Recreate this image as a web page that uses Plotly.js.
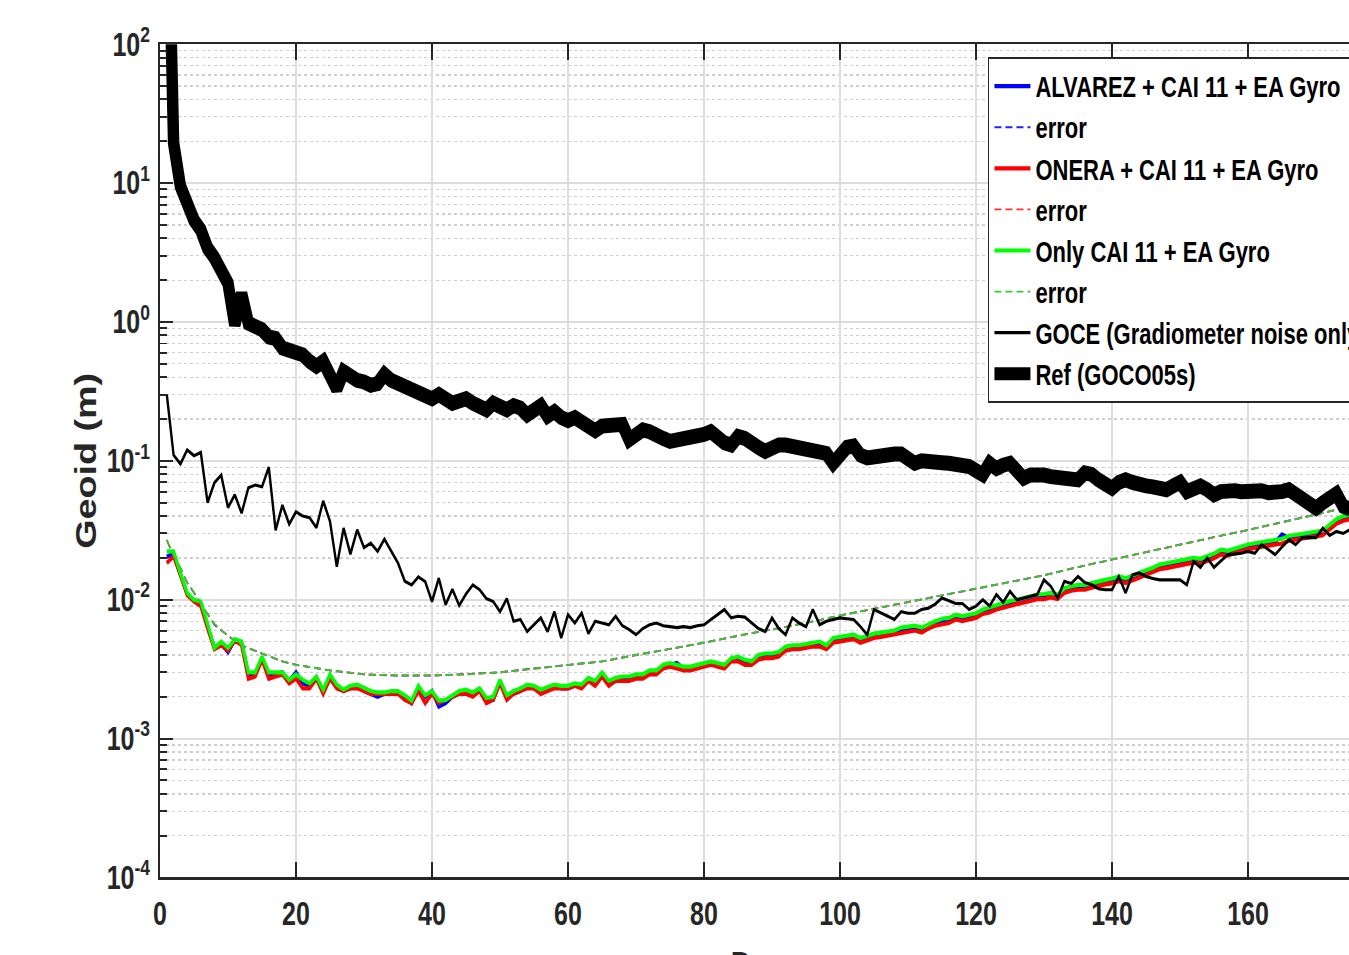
<!DOCTYPE html>
<html><head><meta charset="utf-8">
<script src="https://cdn.plot.ly/plotly-3.0.1.min.js"></script>
<style>
html{margin:0;padding:0;overflow:hidden;background:#fff}
body{margin:0;padding:0;width:1440px;height:955px;background:#fff}
#chart{width:1440px;height:765px;transform:scaleY(1.3);transform-origin:0 0}
</style>
</head><body><div id="chart"></div><script>
// ---- data ----
const degree = [1,2,3,4,5,6,7,8,9,10,11,12,13,14,15,16,17,18,19,20,21,22,23,24,25,26,27,28,29,30,31,32,33,34,35,36,37,38,39,40,41,42,43,44,45,46,47,48,49,50,51,52,53,54,55,56,57,58,59,60,61,62,63,64,65,66,67,68,69,70,71,72,73,74,75,76,77,78,79,80,81,82,83,84,85,86,87,88,89,90,91,92,93,94,95,96,97,98,99,100,101,102,103,104,105,106,107,108,109,110,111,112,113,114,115,116,117,118,119,120,121,122,123,124,125,126,127,128,129,130,131,132,133,134,135,136,137,138,139,140,141,142,143,144,145,146,147,148,149,150,151,152,153,154,155,156,157,158,159,160,161,162,163,164,165,166,167,168,169,170,171,172,173,174,175];

const alvarez = [0.0204,0.0215,0.0152,0.0110,0.0099,0.0094,0.0065,0.0045,0.0048,0.0042,
 0.0051,0.0049,0.0029,0.0029,0.0038,0.0029,0.0029,0.0030,0.0026,0.0030,
 0.0025,0.0024,0.0027,0.0022,0.0028,0.0024,0.0022,0.0023,0.0024,0.0022,
 0.0021,0.0020,0.0021,0.0021,0.0021,0.0020,0.0018,0.0023,0.0020,0.0022,
 0.0017,0.0018,0.0020,0.0021,0.0022,0.0021,0.0022,0.0019,0.0019,0.0026,
 0.0020,0.0021,0.0022,0.0024,0.0023,0.0022,0.0023,0.0024,0.0023,0.0023,
 0.0024,0.0024,0.0027,0.0025,0.0029,0.0025,0.0027,0.0027,0.0027,0.0028,
 0.0028,0.0030,0.0030,0.0033,0.0034,0.0035,0.0032,0.0032,0.0033,0.0034,
 0.0035,0.0034,0.0033,0.0037,0.0038,0.0036,0.0035,0.0039,0.0040,0.0040,
 0.0041,0.0045,0.0046,0.0046,0.0047,0.0048,0.0049,0.0046,0.0052,0.0053,
 0.0053,0.0054,0.0051,0.0054,0.0055,0.0056,0.0057,0.0058,0.0061,0.0062,
 0.0063,0.0061,0.0065,0.0068,0.0071,0.0072,0.0076,0.0074,0.0076,0.0078,
 0.0082,0.0085,0.0089,0.0091,0.0095,0.0097,0.0100,0.0103,0.0106,0.0107,
 0.0109,0.0106,0.0117,0.0121,0.0124,0.0124,0.0128,0.0132,0.0135,0.0138,
 0.0143,0.0139,0.0146,0.0151,0.0158,0.0165,0.0174,0.0178,0.0181,0.0185,
 0.0190,0.0194,0.0191,0.0199,0.0209,0.0222,0.0218,0.0226,0.0236,0.0243,
 0.0247,0.0252,0.0257,0.0260,0.0295,0.0279,0.0284,0.0289,0.0295,0.0299,
 0.0306,0.0337,0.0369,0.0388,0.0398];

const onera = [0.0184,0.0205,0.0150,0.0108,0.0097,0.0090,0.0062,0.0044,0.0047,0.0043,
 0.0051,0.0047,0.0027,0.0028,0.0037,0.0027,0.0028,0.0029,0.0025,0.0027,
 0.0023,0.0023,0.0027,0.0021,0.0027,0.0023,0.0022,0.0023,0.0023,0.0022,
 0.0021,0.0021,0.0021,0.0021,0.0021,0.0019,0.0018,0.0022,0.0018,0.0021,
 0.0018,0.0019,0.0020,0.0021,0.0021,0.0020,0.0022,0.0018,0.0019,0.0025,
 0.0019,0.0021,0.0022,0.0023,0.0023,0.0021,0.0022,0.0023,0.0023,0.0023,
 0.0024,0.0023,0.0026,0.0024,0.0028,0.0024,0.0026,0.0026,0.0026,0.0027,
 0.0027,0.0029,0.0029,0.0032,0.0033,0.0032,0.0031,0.0031,0.0032,0.0033,
 0.0034,0.0033,0.0032,0.0036,0.0036,0.0034,0.0034,0.0037,0.0038,0.0038,
 0.0039,0.0043,0.0044,0.0044,0.0045,0.0046,0.0046,0.0044,0.0049,0.0050,
 0.0051,0.0052,0.0049,0.0051,0.0053,0.0054,0.0055,0.0056,0.0058,0.0059,
 0.0060,0.0058,0.0062,0.0065,0.0067,0.0068,0.0072,0.0070,0.0072,0.0074,
 0.0079,0.0081,0.0085,0.0087,0.0090,0.0093,0.0095,0.0098,0.0101,0.0101,
 0.0104,0.0101,0.0112,0.0116,0.0118,0.0118,0.0122,0.0126,0.0129,0.0131,
 0.0136,0.0132,0.0139,0.0144,0.0151,0.0157,0.0166,0.0169,0.0173,0.0177,
 0.0181,0.0185,0.0182,0.0190,0.0199,0.0212,0.0208,0.0216,0.0225,0.0231,
 0.0236,0.0241,0.0245,0.0248,0.0254,0.0266,0.0271,0.0276,0.0281,0.0285,
 0.0291,0.0321,0.0352,0.0370,0.0380];

const onlyCai = [0.0223,0.0223,0.0155,0.0112,0.0100,0.0097,0.0067,0.0045,0.0050,0.0045,
 0.0052,0.0050,0.0030,0.0030,0.0039,0.0030,0.0030,0.0030,0.00265,0.0029,
 0.00265,0.0025,0.0028,0.00225,0.0029,0.00245,0.00225,0.0024,0.00245,0.0023,
 0.0022,0.00215,0.00215,0.0022,0.0022,0.00205,0.00188,0.0024,0.00205,0.0022,
 0.00188,0.0019,0.00205,0.0022,0.00225,0.00215,0.0023,0.00196,0.0020,0.00265,
 0.00205,0.0022,0.0023,0.00245,0.0024,0.00225,0.00235,0.00245,0.0024,0.0024,
 0.0025,0.00245,0.00274,0.0026,0.0030,0.0026,0.00274,0.0028,0.0028,0.0029,
 0.0029,0.0031,0.0031,0.0034,0.0035,0.0034,0.0033,0.0033,0.0034,0.0035,
 0.0036,0.0035,0.0034,0.0038,0.0039,0.0037,0.0036,0.0040,0.0041,0.0041,
 0.0042,0.0046,0.0047,0.0047,0.0048,0.0049,0.0050,0.0047,0.0053,0.0054,
 0.0055,0.0056,0.0053,0.0055,0.0057,0.0058,0.0059,0.0060,0.0063,0.0064,
 0.0065,0.0063,0.0067,0.0070,0.0073,0.0074,0.0078,0.0076,0.0078,0.0080,
 0.0085,0.0088,0.0092,0.0094,0.0098,0.0100,0.0103,0.0106,0.0109,0.0110,
 0.0112,0.0109,0.0121,0.0125,0.0128,0.0128,0.0132,0.0136,0.0139,0.0142,
 0.0147,0.0143,0.0150,0.0156,0.0163,0.0170,0.0179,0.0183,0.0187,0.0191,
 0.0196,0.0200,0.0197,0.0205,0.0215,0.0229,0.0225,0.0233,0.0243,0.0250,
 0.0255,0.0260,0.0265,0.0268,0.0275,0.0288,0.0293,0.0298,0.0304,0.0308,
 0.0315,0.0347,0.0380,0.0400,0.0410];

const goce = [0.30,0.110,0.095,0.12,0.109,0.115,0.050,0.0695,0.079,0.046,
 0.057,0.042,0.064,0.067,0.065,0.090,0.0316,0.048,0.035,0.043,
 0.040,0.039,0.033,0.0515,0.0366,0.0173,0.0328,0.0213,0.0319,0.0237,
 0.0256,0.0223,0.0273,0.0225,0.0184,0.0136,0.0128,0.0146,0.0135,0.0097,
 0.0143,0.0092,0.0119,0.0091,0.0110,0.0128,0.0118,0.0102,0.0097,0.0082,
 0.0102,0.0070,0.0072,0.0059,0.0066,0.0074,0.0059,0.0082,0.0053,0.0078,
 0.0068,0.0080,0.0057,0.0070,0.0068,0.0066,0.0076,0.0065,0.0061,0.0056,
 0.0062,0.0066,0.0068,0.0065,0.0064,0.0063,0.0064,0.0063,0.0065,0.0066,
 0.0072,0.0078,0.0085,0.0074,0.0076,0.0075,0.0068,0.0062,0.0059,0.0074,
 0.0062,0.0056,0.0074,0.0068,0.0064,0.0085,0.0066,0.0070,0.0072,0.0074,
 0.0073,0.0072,0.0064,0.0056,0.0085,0.0080,0.0076,0.0072,0.0082,0.0080,
 0.0080,0.0085,0.0087,0.0093,0.0103,0.0098,0.0094,0.0094,0.0085,0.0090,
 0.0100,0.0090,0.0109,0.0096,0.0115,0.0100,0.0103,0.0106,0.0109,0.0139,
 0.0125,0.0103,0.0136,0.0131,0.0147,0.0133,0.0128,0.0120,0.0118,0.0118,
 0.0147,0.0112,0.0151,0.0156,0.0147,0.0142,0.0139,0.0139,0.0139,0.0139,
 0.0128,0.0189,0.0171,0.0200,0.0171,0.0189,0.0211,0.0213,0.0216,0.0223,
 0.0216,0.0249,0.0230,0.0211,0.0240,0.0270,0.0249,0.0280,0.0280,0.0280,
 0.0328,0.0290,0.0310,0.0300,0.0320];

const refGoco = [3000,19.4,9.5,6.8,5.4,4.6,3.4,2.9,2.4,1.9,
 0.95,1.6,0.98,0.93,0.88,0.78,0.76,0.65,0.63,0.62,
 0.58,0.52,0.48,0.52,0.42,0.33,0.44,0.40,0.38,0.37,
 0.35,0.36,0.42,0.38,0.36,0.33,0.32,0.30,0.28,0.28,
 0.30,0.27,0.26,0.27,0.28,0.26,0.24,0.233,0.26,0.24,
 0.233,0.25,0.24,0.214,0.23,0.25,0.21,0.226,0.205,0.195,
 0.205,0.19,0.175,0.165,0.178,0.18,0.182,0.183,0.142,0.152,
 0.167,0.162,0.158,0.145,0.138,0.14,0.141,0.145,0.15,0.155,
 0.162,0.145,0.135,0.13,0.15,0.145,0.138,0.125,0.117,0.125,
 0.13,0.13,0.128,0.122,0.117,0.118,0.12,0.113,0.096,0.115,
 0.125,0.128,0.11,0.105,0.108,0.11,0.11,0.112,0.112,0.10,
 0.096,0.10,0.097,0.098,0.097,0.096,0.096,0.093,0.091,0.085,
 0.0795,0.096,0.088,0.093,0.096,0.085,0.075,0.079,0.081,0.079,
 0.077,0.077,0.075,0.074,0.073,0.082,0.08,0.073,0.068,0.0636,
 0.07,0.073,0.07,0.066,0.066,0.065,0.064,0.062,0.066,0.07,
 0.06,0.063,0.066,0.062,0.057,0.06,0.062,0.061,0.06,0.061,
 0.062,0.061,0.059,0.058,0.06,0.062,0.057,0.0525,0.049,0.0457,
 0.05,0.056,0.058,0.047,0.045];

const errDegree = [1,2,3,4,5,6,7,8,10,12,15,18,20,25,30,35,40,45,50,55,60,65,70,75,80,85,90,95,100,105,110,115,120,125,130,135,140,145,150,155,160,165,170,175];
const alvarezErr = [0.0268,0.0207,0.0169,0.0132,0.0112,0.0092,0.0079,0.0066,0.0055,0.0047,0.0041,0.0036,0.0034,0.0031,0.0029,0.00284,0.00284,0.0029,0.0030,0.0032,0.0034,0.0036,0.0040,0.0044,0.0049,0.0055,0.0061,0.0068,0.0077,0.0086,0.0096,0.0107,0.0120,0.0134,0.0150,0.0172,0.0195,0.0222,0.0250,0.0282,0.0318,0.0360,0.0410,0.0468];
const oneraErr = [0.0269,0.0208,0.0170,0.0133,0.0113,0.0093,0.0079,0.0067,0.0055,0.0047,0.0041,0.0036,0.0034,0.0031,0.0029,0.00285,0.00285,0.0029,0.0030,0.0032,0.0034,0.0036,0.0040,0.0044,0.0049,0.0055,0.0061,0.0068,0.0077,0.0086,0.0096,0.0107,0.0120,0.0134,0.0150,0.0172,0.0195,0.0222,0.0250,0.0282,0.0318,0.0360,0.0410,0.0470];
const onlyCaiErr = [0.0270,0.0208,0.0170,0.0133,0.0113,0.0093,0.0079,0.0067,0.0055,0.0047,0.0041,0.0036,0.0034,0.0031,0.0029,0.00285,0.00285,0.0029,0.0030,0.0032,0.0034,0.0036,0.0040,0.0044,0.0049,0.0055,0.0061,0.0068,0.0077,0.0086,0.0096,0.0107,0.0120,0.0134,0.0150,0.0172,0.0195,0.0222,0.0250,0.0282,0.0318,0.0360,0.0410,0.0470];

const seriesNames = ['ALVAREZ + CAI 11 + EA Gyro','error','ONERA + CAI 11 + EA Gyro','error','Only CAI 11 + EA Gyro','error','GOCE (Gradiometer noise only)','Ref (GOCO05s)'];
const xTickVals = [0,20,40,60,80,100,120,140,160];
const yTickVals = [1e-4,1e-3,1e-2,1e-1,1e0,1e1,1e2];
const yTickText = ['10<sup>-4</sup>','10<sup>-3</sup>','10<sup>-2</sup>','10<sup>-1</sup>','10<sup>0</sup>','10<sup>1</sup>','10<sup>2</sup>'];

// ---- styling ----
const FONT = '"Liberation Sans", Arial, Helvetica, sans-serif';
const INK = '#262626';
const minorVals = [];
for (let e = -4; e < 2; e++) for (let m = 2; m <= 9; m++) minorVals.push(m * Math.pow(10, e));

function solid(y, name, color, w){ return {x: degree, y: y, name: name, mode: 'lines', line: {color: color, width: w}}; }
function dashed(y, name, color){ return {x: errDegree, y: y, name: name, mode: 'lines', line: {color: color, width: 1.4, dash: '7px,4px'}}; }

const traces = [
  solid(alvarez, seriesNames[0], '#0000ff', 3.2),
  dashed(alvarezErr, seriesNames[1], '#2020ff'),
  solid(onera, seriesNames[2], '#ff0000', 3.2),
  dashed(oneraErr, seriesNames[3], '#ff3030'),
  solid(onlyCai, seriesNames[4], '#00ff00', 3.2),
  dashed(onlyCaiErr, seriesNames[5], '#33cc33'),
  solid(goce, seriesNames[6], '#000000', 2.4),
  solid(refGoco, seriesNames[7], '#000000', 11.5)
];

const layout = {
  width: 1440, height: 765,
  margin: {l: 160, r: 40, t: 33.85, b: 89.6, autoexpand: false},
  paper_bgcolor: '#ffffff', plot_bgcolor: '#ffffff',
  showlegend: true,
  font: {family: FONT, color: INK},
  xaxis: {
    range: [0, 182.35], tickmode: 'array', tickvals: xTickVals,
    ticks: 'inside', ticklen: 12, tickwidth: 1.5, tickcolor: INK,
    showline: true, linecolor: INK, linewidth: 1.6, mirror: 'ticks',
    showgrid: true, gridcolor: '#dedede', gridwidth: 1.5, zeroline: false,
    tickfont: {family: FONT, size: 25, color: INK, weight: 'bold'},
    ticklabelstandoff: 5,
    title: {text: 'Degree', font: {family: FONT, size: 29, color: INK, weight: 'bold'}, standoff: 16}
  },
  yaxis: {
    type: 'log', range: [-4, 2], tickmode: 'array', tickvals: yTickVals, ticktext: yTickText,
    ticks: 'inside', ticklen: 13, tickwidth: 1.5, tickcolor: INK,
    showline: true, linecolor: INK, linewidth: 2, mirror: 'ticks',
    showgrid: true, gridcolor: '#dcdcdc', gridwidth: 1.6, zeroline: false,
    tickfont: {family: FONT, size: 25, color: INK, weight: 'bold'},
    ticklabelstandoff: 3,
    minor: {tickmode: 'array', tickvals: minorVals, ticks: 'inside', ticklen: 7, tickwidth: 1.5, tickcolor: INK,
            showgrid: true, gridcolor: '#cfcfcf', gridwidth: 1, griddash: 'dot'},
    title: {text: 'Geoid (m)', font: {family: FONT, size: 29, color: INK, weight: 'bold'}, standoff: 1}
  },
  legend: {
    x: 0.6677, y: 0.9844, xanchor: 'left', yanchor: 'top',
    bgcolor: '#ffffff', bordercolor: INK, borderwidth: 1.5,
    itemwidth: 36,
    font: {family: FONT, size: 22, color: '#000000', weight: 'bold'},
    tracegroupgap: 0
  }
};

Plotly.newPlot('chart', traces, layout, {displayModeBar: false, staticPlot: true});
</script></body></html>
